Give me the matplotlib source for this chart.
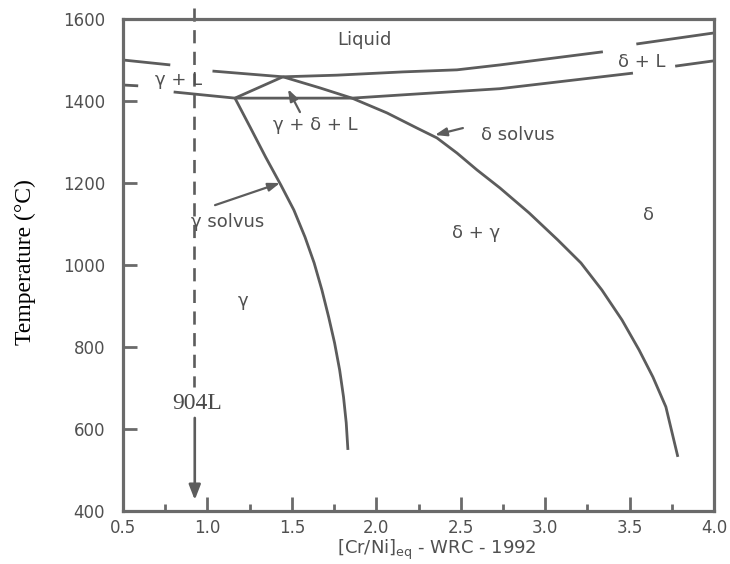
import matplotlib
matplotlib.use('Agg')
import matplotlib.pyplot as plt

# ---- data: [Cr/Ni]eq (x) and temperature in °C (t) ----
gamma_liq_left_x = [0.50, 0.78]
gamma_liq_left_t = [1500, 1488]
gamma_liq_x = [1.03, 1.447]
gamma_liq_t = [1473, 1459]
delta_liq_x = [1.447, 1.767, 2.158, 2.478, 2.732, 3.342]
delta_liq_t = [1459, 1463, 1471, 1476, 1488, 1520]
delta_liq_right_x = [3.54, 4.00]
delta_liq_right_t = [1539, 1566]
solidus_left_x = [0.50, 0.59]
solidus_left_t = [1439, 1437]
solidus_x = [0.80, 1.163, 1.856, 2.158, 2.732, 3.52]
solidus_t = [1422, 1407, 1407, 1415, 1430, 1468]
solidus_right_x = [3.77, 4.00]
solidus_right_t = [1485, 1498]
triangle_x = [1.163, 1.447]
triangle_t = [1407, 1459]
gamma_solvus_x = [1.163, 1.252, 1.345, 1.435, 1.512, 1.578, 1.632, 1.678, 1.718,
                  1.753, 1.783, 1.806, 1.822, 1.832]
gamma_solvus_t = [1407, 1337, 1263, 1195, 1134, 1068, 1005, 939, 873,
                  810, 744, 678, 615, 549]
delta_solvus_x = [1.447, 1.666, 1.856, 2.063, 2.241, 2.359, 2.478, 2.596, 2.732, 2.905,
                  3.075, 3.212, 3.336, 3.455, 3.556, 3.638, 3.715, 3.786]
delta_solvus_t = [1459, 1432, 1407, 1371, 1334, 1310, 1273, 1232, 1188, 1127,
                  1061, 1005, 939, 866, 793, 727, 654, 532]

alloy_name = "904L"
alloy_x = 0.92
alloy_dash_t = [1627, 702]
alloy_arrow_t = [627, 427]

region_labels = ["Liquid", "γ + L", "δ + L", "γ + δ + L", "δ solvus", "γ solvus", "δ + γ", "δ", "γ"]
region_x = [1.93, 0.83, 3.57, 1.64, 2.84, 1.12, 2.59, 3.61, 1.21]
region_t = [1549, 1451, 1495, 1341, 1317, 1105, 1078, 1122, 912]

# arrows: (tail x, tail t, tip x, tip t)
pointer_tail_x = [1.045, 2.513, 1.548]
pointer_tail_t = [1146, 1334, 1373]
pointer_tip_x = [1.43, 2.347, 1.477]
pointer_tip_t = [1200, 1317, 1429]

x_ticks = [0.5, 1.0, 1.5, 2.0, 2.5, 3.0, 3.5, 4.0]
x_minor = [0.75, 1.25, 1.75, 2.25, 2.75, 3.25, 3.75]
y_ticks = [400, 600, 800, 1000, 1200, 1400, 1600]

# ---- drawing ----
plt.rcParams['font.family'] = ['DejaVu Sans']
LINE = '#5c5c5c'
AX = '#6a6a6a'
TXT = '#505050'

fig = plt.figure(figsize=(7.30, 5.64), dpi=100)
ax = fig.add_axes([123/730, 1 - 511/564, (714-123)/730, (511-19)/564])
ax.set_xlim(0.5, 4.0)
ax.set_ylim(400, 1600)

lw = 2.0
for xs, ts in [(gamma_liq_left_x, gamma_liq_left_t), (gamma_liq_x, gamma_liq_t),
               (delta_liq_x, delta_liq_t), (delta_liq_right_x, delta_liq_right_t),
               (solidus_left_x, solidus_left_t), (solidus_x, solidus_t),
               (solidus_right_x, solidus_right_t), (triangle_x, triangle_t),
               (gamma_solvus_x, gamma_solvus_t), (delta_solvus_x, delta_solvus_t)]:
    ax.plot(xs, ts, color=LINE, lw=lw, solid_capstyle='butt', solid_joinstyle='round')

# 904L dashed line and arrow
ax.plot([alloy_x, alloy_x], alloy_dash_t, color=LINE, lw=1.9,
        linestyle=(0, (5, 3.2)), clip_on=False)
ax.annotate('', xy=(alloy_x + 0.005, alloy_arrow_t[1]), xytext=(alloy_x + 0.005, alloy_arrow_t[0]),
            arrowprops=dict(arrowstyle='-|>,head_length=0.9,head_width=0.35',
                            color=LINE, lw=1.9, shrinkA=0, shrinkB=0))
ax.text(alloy_x + 0.018, 663, alloy_name, family='Liberation Serif', fontsize=17,
        color='#4a4a4a', ha='center', va='center')

for lab, x, t in zip(region_labels, region_x, region_t):
    ax.text(x, t, lab, fontsize=13, color=TXT, ha='center', va='center')

for tx, tt, hx, ht in zip(pointer_tail_x, pointer_tail_t, pointer_tip_x, pointer_tip_t):
    ax.annotate('', xy=(hx, ht), xytext=(tx, tt),
                arrowprops=dict(arrowstyle='-|>,head_length=0.7,head_width=0.25',
                                color=LINE, lw=1.6, shrinkA=0, shrinkB=0))

# axes styling
for s in ax.spines.values():
    s.set_color(AX)
    s.set_linewidth(2.3)
ax.set_xticks(x_ticks)
ax.set_xticklabels([f"{v:.1f}" for v in x_ticks])
ax.set_xticks(x_minor, minor=True)
ax.set_yticks(y_ticks)
ax.set_yticklabels([str(v) for v in y_ticks])
ax.tick_params(axis='both', which='major', direction='in', length=10, width=2,
               color=AX, labelcolor=TXT, labelsize=12)
ax.tick_params(axis='x', which='major', pad=6)
ax.tick_params(axis='y', which='major', pad=13)
ax.tick_params(axis='x', which='minor', direction='in', length=5, width=2, color=AX)

fig.text(25/730, 1 - 262/564, 'Temperature (°C)', rotation=90, family='Liberation Serif',
         fontsize=17, color='black', ha='center', va='center')
fig.text(437/730, 1 - 550/564, r'[Cr/Ni]$_{\rm eq}$ - WRC - 1992', fontsize=13,
         color=TXT, ha='center', va='center')

fig.savefig('out.png', dpi=100)
